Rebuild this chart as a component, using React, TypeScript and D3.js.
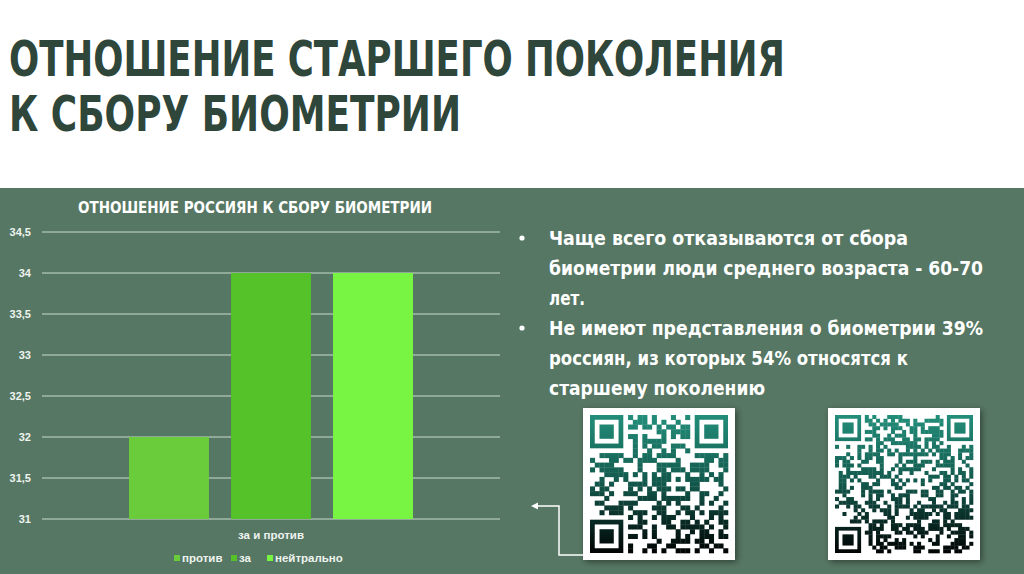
import React, { useEffect, useRef } from 'react';
import * as d3 from 'd3';

// Chart data
const categories = ['за и против'];
const seriesNames = ['против', 'за', 'нейтрально'];
const seriesValues = [32, 34, 34];
const seriesColors = ['#6acc3a', '#54c228', '#77f542'];
const yTicks = [31, 31.5, 32, 32.5, 33, 33.5, 34, 34.5];

const bulletLines = [
  { text: 'Чаще всего отказываются от сбора', bullet: true, w: 359 },
  { text: 'биометрии люди среднего возраста - 60-70', bullet: false, w: 434 },
  { text: 'лет.', bullet: false, w: 36 },
  { text: 'Не имеют представления о биометрии 39%', bullet: true, w: 434 },
  { text: 'россиян, из которых 54% относятся к', bullet: false, w: 359 },
  { text: 'старшему поколению', bullet: false, w: 216 },
];

const NARROW = "'Liberation Sans Narrow', 'DejaVu Sans Condensed', 'Roboto Condensed', sans-serif";

// integer hash for the QR picture modules
const hash = (a: number, b: number, s: number) => {
  let h = Math.imul(a + 0x9e3779b9, 0x85ebca6b) ^ Math.imul(b + s * 7919, 0xc2b2ae35);
  h ^= h >>> 15;
  h = Math.imul(h, 0x27d4eb2d);
  h ^= h >>> 13;
  return (h >>> 0) / 4294967296;
};

const App: React.FC = () => {
  const ref = useRef<SVGSVGElement>(null);

  useEffect(() => {
    if (!ref.current) return;
    const svg = d3.select(ref.current);
    svg.selectAll('*').remove();

    const W = 1024, H = 574;

    // backgrounds
    svg.append('rect').attr('width', W).attr('height', H).attr('fill', '#ffffff');
    svg.append('rect').attr('y', 188).attr('width', W).attr('height', H - 188).attr('fill', '#567763');

    // slide title
    const title = ['ОТНОШЕНИЕ СТАРШЕГО ПОКОЛЕНИЯ', 'К СБОРУ БИОМЕТРИИ'];
    const titleW = [776, 452];
    title.forEach((t, i) => {
      svg.append('text')
        .attr('x', 9)
        .attr('y', 76 + i * 55)
        .attr('font-family', NARROW)
        .attr('font-weight', 'bold')
        .attr('font-size', 50)
        .attr('fill', '#2f463a')
        .attr('textLength', titleW[i])
        .attr('lengthAdjust', 'spacingAndGlyphs')
        .text(t);
    });

    // chart
    const plot = { left: 42, right: 500, top: 232, bottom: 519 };
    const y = d3.scaleLinear().domain([31, 34.5]).range([plot.bottom, plot.top]);
    const x0 = d3.scaleBand().domain(categories).range([plot.left, plot.right]);
    const x1 = d3.scaleBand()
      .domain(seriesNames)
      .range([0, x0.bandwidth()])
      .paddingInner(0.216)
      .paddingOuter(0.853);

    svg.append('text')
      .attr('x', 255)
      .attr('y', 213)
      .attr('text-anchor', 'middle')
      .attr('font-family', NARROW)
      .attr('font-weight', 'bold')
      .attr('font-size', 16)
      .attr('fill', '#ffffff')
      .attr('textLength', 354)
      .attr('lengthAdjust', 'spacingAndGlyphs')
      .text('ОТНОШЕНИЕ РОССИЯН К СБОРУ БИОМЕТРИИ');

    // grid + y labels
    const grid = svg.append('g');
    yTicks.forEach(t => {
      grid.append('line')
        .attr('x1', plot.left).attr('x2', plot.right)
        .attr('y1', y(t)).attr('y2', y(t))
        .attr('stroke', '#c9dccf').attr('stroke-width', 1);
      grid.append('text')
        .attr('x', 31).attr('y', y(t) + 4)
        .attr('text-anchor', 'end')
        .attr('font-family', "'Liberation Sans', Arial, sans-serif")
        .attr('font-weight', 'bold')
        .attr('font-size', 11)
        .attr('fill', '#eef3ef')
        .text(d3.format('')(t).replace('.', ','));
    });

    // bars
    categories.forEach(c => {
      const gx = x0(c) || 0;
      svg.selectAll(null)
        .data(seriesNames)
        .enter()
        .append('rect')
          .attr('x', d => gx + (x1(d) || 0))
          .attr('width', x1.bandwidth())
          .attr('y', (d, i) => y(seriesValues[i]))
          .attr('height', (d, i) => plot.bottom - y(seriesValues[i]))
          .attr('fill', (d, i) => seriesColors[i]);

      svg.append('text')
        .attr('x', gx + x0.bandwidth() / 2)
        .attr('y', 539)
        .attr('text-anchor', 'middle')
        .attr('font-family', "'Liberation Sans', Arial, sans-serif")
        .attr('font-weight', 'bold')
        .attr('font-size', 11.5)
        .attr('fill', '#eef3ef')
        .text(c);
    });

    // legend
    const legendX = [174, 231, 267];
    seriesNames.forEach((s, i) => {
      svg.append('rect')
        .attr('x', legendX[i]).attr('y', 555)
        .attr('width', 6).attr('height', 6)
        .attr('fill', seriesColors[i]);
      svg.append('text')
        .attr('x', legendX[i] + 8).attr('y', 562)
        .attr('font-family', "'Liberation Sans', Arial, sans-serif")
        .attr('font-weight', 'bold')
        .attr('font-size', 11.5)
        .attr('fill', '#eef3ef')
        .text(s);
    });

    // bullet text
    bulletLines.forEach((l, i) => {
      const by = 245 + i * 30;
      if (l.bullet) {
        svg.append('circle').attr('cx', 522).attr('cy', by - 7).attr('r', 2.6).attr('fill', '#ffffff');
      }
      svg.append('text')
        .attr('x', 549).attr('y', by)
        .attr('font-family', NARROW)
        .attr('font-weight', 'bold')
        .attr('font-size', 19.5)
        .attr('fill', '#ffffff')
        .attr('textLength', l.w)
        .attr('lengthAdjust', 'spacingAndGlyphs')
        .text(l.text);
    });

    // QR-like pictures
    const defs = svg.append('defs');
    const grad = defs.append('linearGradient').attr('id', 'qrg')
      .attr('gradientUnits', 'userSpaceOnUse')
      .attr('x1', 0).attr('y1', 412).attr('x2', 0).attr('y2', 556);
    grad.append('stop').attr('offset', '0%').attr('stop-color', '#23907c');
    grad.append('stop').attr('offset', '50%').attr('stop-color', '#12574b');
    grad.append('stop').attr('offset', '100%').attr('stop-color', '#000000');
    const sh = defs.append('filter').attr('id', 'qsh').attr('x', '-10%').attr('y', '-10%').attr('width', '130%').attr('height', '130%');
    sh.append('feDropShadow').attr('dx', 2).attr('dy', 2).attr('stdDeviation', 3).attr('flood-color', '#000').attr('flood-opacity', 0.45);

    const drawQr = (qx: number, qy: number, size: number, n: number, seed: number) => {
      const g = svg.append('g');
      g.append('rect').attr('x', qx).attr('y', qy).attr('width', size).attr('height', size)
        .attr('fill', '#ffffff').attr('filter', 'url(#qsh)');
      const pad = 7;
      const m = (size - 2 * pad) / n;
      const inFinder = (r: number, c: number) =>
        (r < 8 && c < 8) || (r < 8 && c >= n - 8) || (r >= n - 8 && c < 8);
      const cells = g.append('g').attr('fill', 'url(#qrg)');
      for (let r = 0; r < n; r++) {
        for (let c = 0; c < n; c++) {
          if (inFinder(r, c)) continue;
          if (hash(r, c, seed) < 0.5) {
            cells.append('rect')
              .attr('x', qx + pad + c * m).attr('y', qy + pad + r * m)
              .attr('width', m + 0.3).attr('height', m + 0.3);
          }
        }
      }
      const finder = (r0: number, c0: number) => {
        const fx = qx + pad + c0 * m, fy = qy + pad + r0 * m;
        cells.append('rect').attr('x', fx).attr('y', fy).attr('width', 7 * m).attr('height', 7 * m);
        g.append('rect').attr('x', fx + m).attr('y', fy + m).attr('width', 5 * m).attr('height', 5 * m).attr('fill', '#fff');
        g.append('rect').attr('x', fx + 2 * m).attr('y', fy + 2 * m).attr('width', 3 * m).attr('height', 3 * m).attr('fill', 'url(#qrg)');
      };
      finder(0, 0);
      finder(0, n - 7);
      finder(n - 7, 0);
    };
    drawQr(583, 408, 152, 29, 7);
    drawQr(828, 408, 152, 37, 13);

    // arrow
    svg.append('path')
      .attr('d', 'M583,555 H559 V506 H537')
      .attr('fill', 'none').attr('stroke', '#ffffff').attr('stroke-width', 1.5);
    svg.append('path')
      .attr('d', 'M531,506 L538,502.5 L538,509.5 Z')
      .attr('fill', '#ffffff');
  }, []);

  return (
    <svg ref={ref} width={1024} height={574}
      style={{ position: 'absolute', left: 0, top: 0, display: 'block' }} />
  );
};

export default App;
